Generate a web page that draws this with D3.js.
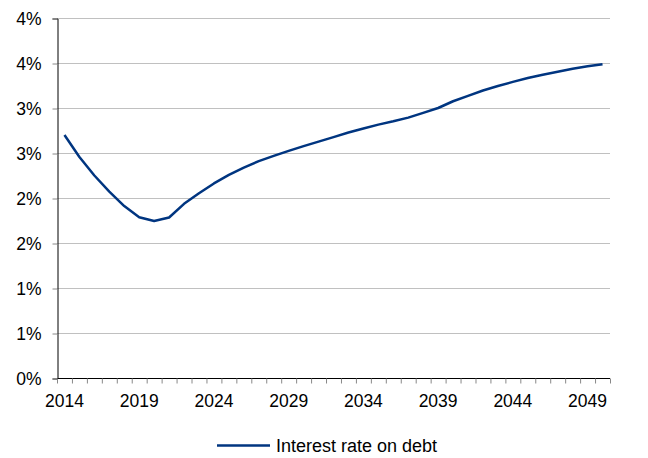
<!DOCTYPE html>
<html lang="en">
<head>
<meta charset="UTF-8">
<title>Interest rate on debt</title>
<script src="https://d3js.org/d3.v7.min.js"></script>
<style>
  body { margin: 0; background: #fff; }
  text { font-family: "Liberation Sans", Arial, sans-serif; fill: #000; }
</style>
</head>
<body>
<div id="chart"></div>
<script>
  // data
  var years = d3.range(2014, 2051);
  var rate = [2.70, 2.455, 2.25, 2.07, 1.91, 1.787, 1.745, 1.783, 1.935, 2.052, 2.162, 2.256, 2.337,
              2.41, 2.468, 2.524, 2.577, 2.626, 2.677, 2.727, 2.772, 2.815, 2.852, 2.893, 2.946,
              3.00, 3.075, 3.135, 3.195, 3.245, 3.29, 3.333, 3.37, 3.403, 3.437, 3.463, 3.487];
  var yTicks = [0, 0.5, 1, 1.5, 2, 2.5, 3, 3.5, 4];
  var seriesName = "Interest rate on debt";

  var w = 648, h = 458;
  var mLeft = 57, mRight = 610, mTop = 18, mBottom = 378;

  var svg = d3.select("#chart").append("svg")
    .attr("width", w)
    .attr("height", h);

  var x = d3.scaleBand()
    .domain(years)
    .range([mLeft, mRight]);

  var y = d3.scaleLinear()
    .domain([0, 4])
    .range([mBottom, mTop]);

  // gridlines
  svg.append("g")
    .selectAll("line")
    .data(yTicks.filter(function(d) { return d > 0; }))
    .enter()
    .append("line")
    .attr("x1", mLeft)
    .attr("x2", mRight)
    .attr("y1", function(d) { return y(d) + 0.5; })
    .attr("y2", function(d) { return y(d) + 0.5; })
    .attr("stroke", "#c0c0c0")
    .attr("stroke-width", 1);

  // y axis
  var yAxis = svg.append("g")
    .attr("transform", "translate(" + (mLeft + 0.5) + ",0.5)")
    .call(d3.axisLeft(y)
      .tickValues(yTicks)
      .tickSize(5)
      .tickPadding(11)
      .tickFormat(function(d) { return Math.round(d) + "%"; }));
  yAxis.select(".domain").attr("stroke", "#000");
  yAxis.selectAll(".tick line").attr("stroke", "#888");
  yAxis.selectAll("text")
    .style("font-size", "17.5px")
    .style("font-family", "'Liberation Sans', Arial, sans-serif")
    .attr("fill", "#000");

  // x axis: ticks on category borders, labels every 5 years
  var xg = svg.append("g")
    .attr("transform", "translate(0," + (mBottom + 0.5) + ")");
  xg.append("line")
    .attr("x1", mLeft)
    .attr("x2", mRight)
    .attr("stroke", "#000");
  xg.selectAll(".tk")
    .data(years.concat([2051]))
    .enter()
    .append("line")
    .attr("class", "tk")
    .attr("x1", function(d, i) { return mLeft + i * x.bandwidth() + 0.5; })
    .attr("x2", function(d, i) { return mLeft + i * x.bandwidth() + 0.5; })
    .attr("y1", 0)
    .attr("y2", 5)
    .attr("stroke", "#888");
  xg.selectAll("text")
    .data(years.filter(function(d) { return (d - 2014) % 5 === 0; }))
    .enter()
    .append("text")
    .attr("x", function(d) { return x(d) + x.bandwidth() / 2; })
    .attr("y", 28)
    .attr("text-anchor", "middle")
    .style("font-size", "17.5px")
    .text(function(d) { return d; });

  // the line
  var line = d3.line()
    .x(function(d, i) { return x(years[i]) + x.bandwidth() / 2; })
    .y(function(d) { return y(d); });

  svg.append("path")
    .datum(rate)
    .attr("d", line)
    .attr("fill", "none")
    .attr("stroke", "#003580")
    .attr("stroke-width", 2.5)
    .attr("stroke-linejoin", "round");

  // legend
  var lg = svg.append("g").attr("transform", "translate(217,445.5)");
  lg.append("line")
    .attr("x1", 0)
    .attr("x2", 53)
    .attr("stroke", "#003580")
    .attr("stroke-width", 2.5);
  lg.append("text")
    .attr("x", 59)
    .attr("y", 6)
    .style("font-size", "18px")
    .text(seriesName);
</script>
</body>
</html>
